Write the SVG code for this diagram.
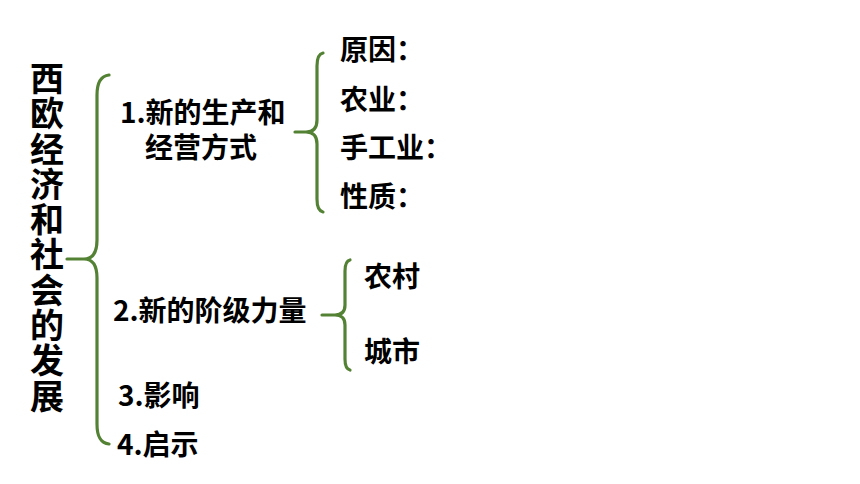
<svg xmlns="http://www.w3.org/2000/svg" width="860" height="484" viewBox="0 0 860 484">
<style>
.t{font-family:"Noto Sans CJK SC","Noto Sans",sans-serif;font-weight:bold;font-size:28px;fill:#000}
.title{font-family:"Noto Sans CJK SC","Noto Sans",sans-serif;font-weight:bold;font-size:34px;fill:#000;writing-mode:vertical-rl;letter-spacing:1.3px}
.b{fill:none;stroke:#548235;stroke-width:3.2;stroke-linecap:round;stroke-linejoin:round}
</style>
<rect width="860" height="484" fill="#fff"/>
<g id="title">
<text class="title" x="47" y="61">西欧经济和社会的发展</text>
</g>
<g id="connectors">
<path class="b" d="M109,75 C100,76 97,84 97,95 L97,240 C97,252 93,259 84,259 L67,259 M84,259 C93,259 97,266 97,278 L97,424 C97,436 100,443 109,444"/>
<path class="b" d="M323,53 C318,54 317,59 317,66 L317,120 C317,128 313,132 306,132 L295,132 M306,132 C313,132 317,136 317,144 L317,199 C317,206 318,211 323,212"/>
<path class="b" d="M350,260 C346,261 345,265 345,271 L345,305 C345,312 341,315 335,315 L322,315 M335,315 C341,315 345,318 345,325 L345,359 C345,365 346,369 350,370"/>
</g>
<g id="n1"><text class="t"><tspan x="120" y="123">1.新的生产和</tspan><tspan x="145" y="158">经营方式</tspan></text></g>
<g id="n2"><text class="t" x="113" y="321">2.新的阶级力量</text></g>
<g id="n3"><text class="t" x="118" y="406">3.影响</text></g>
<g id="n4"><text class="t" x="117" y="455">4.启示</text></g>
<g id="s1"><text class="t" x="340" y="60">原因：</text></g>
<g id="s2"><text class="t" x="340" y="110">农业：</text></g>
<g id="s3"><text class="t" x="340" y="158">手工业：</text></g>
<g id="s4"><text class="t" x="340" y="207">性质：</text></g>
<g id="s5"><text class="t" x="364" y="287">农村</text></g>
<g id="s6"><text class="t" x="364" y="362">城市</text></g>
</svg>
